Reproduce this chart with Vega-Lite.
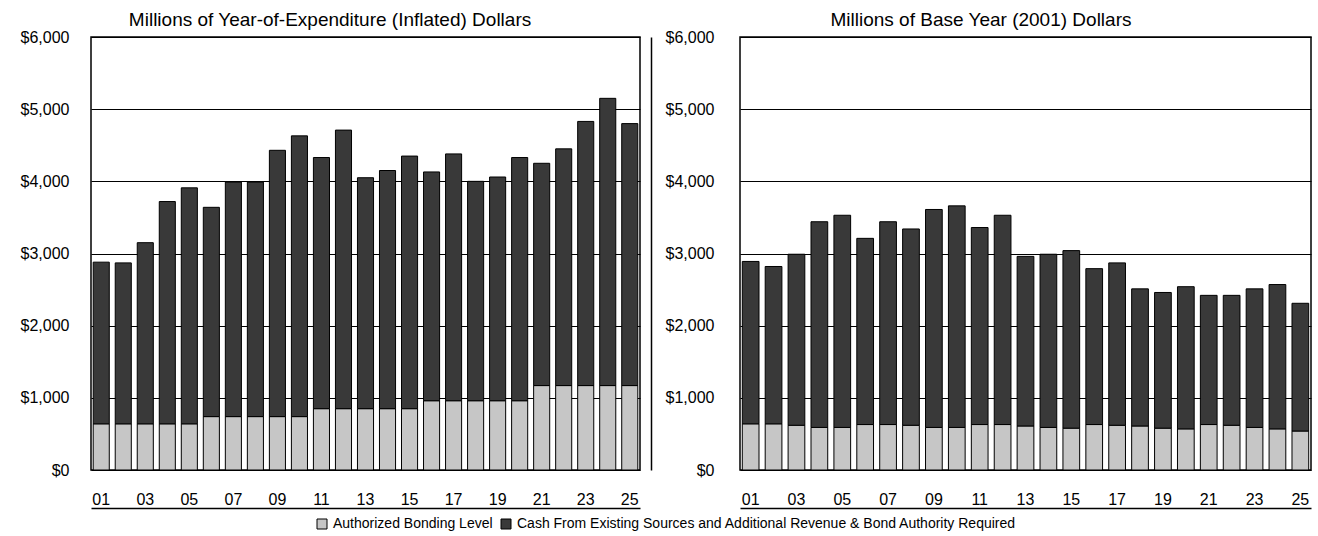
{
  "$schema": "https://vega.github.io/schema/vega-lite/v6.json",
  "background": "white",
  "padding": {"left": 19, "top": 10, "right": 5, "bottom": 4},
  "datasets": {
    "rows": [
      {"panel": "YOE", "year": "01", "series": "Authorized Bonding Level", "value": 640},
      {"panel": "YOE", "year": "02", "series": "Authorized Bonding Level", "value": 640},
      {"panel": "YOE", "year": "03", "series": "Authorized Bonding Level", "value": 640},
      {"panel": "YOE", "year": "04", "series": "Authorized Bonding Level", "value": 640},
      {"panel": "YOE", "year": "05", "series": "Authorized Bonding Level", "value": 640},
      {"panel": "YOE", "year": "06", "series": "Authorized Bonding Level", "value": 740},
      {"panel": "YOE", "year": "07", "series": "Authorized Bonding Level", "value": 740},
      {"panel": "YOE", "year": "08", "series": "Authorized Bonding Level", "value": 740},
      {"panel": "YOE", "year": "09", "series": "Authorized Bonding Level", "value": 740},
      {"panel": "YOE", "year": "10", "series": "Authorized Bonding Level", "value": 740},
      {"panel": "YOE", "year": "11", "series": "Authorized Bonding Level", "value": 850},
      {"panel": "YOE", "year": "12", "series": "Authorized Bonding Level", "value": 850},
      {"panel": "YOE", "year": "13", "series": "Authorized Bonding Level", "value": 850},
      {"panel": "YOE", "year": "14", "series": "Authorized Bonding Level", "value": 850},
      {"panel": "YOE", "year": "15", "series": "Authorized Bonding Level", "value": 850},
      {"panel": "YOE", "year": "16", "series": "Authorized Bonding Level", "value": 960},
      {"panel": "YOE", "year": "17", "series": "Authorized Bonding Level", "value": 960},
      {"panel": "YOE", "year": "18", "series": "Authorized Bonding Level", "value": 960},
      {"panel": "YOE", "year": "19", "series": "Authorized Bonding Level", "value": 960},
      {"panel": "YOE", "year": "20", "series": "Authorized Bonding Level", "value": 960},
      {"panel": "YOE", "year": "21", "series": "Authorized Bonding Level", "value": 1170},
      {"panel": "YOE", "year": "22", "series": "Authorized Bonding Level", "value": 1170},
      {"panel": "YOE", "year": "23", "series": "Authorized Bonding Level", "value": 1170},
      {"panel": "YOE", "year": "24", "series": "Authorized Bonding Level", "value": 1170},
      {"panel": "YOE", "year": "25", "series": "Authorized Bonding Level", "value": 1170},
      {"panel": "YOE", "year": "01", "series": "Cash From Existing Sources and Additional Revenue & Bond Authority Required", "value": 2240},
      {"panel": "YOE", "year": "02", "series": "Cash From Existing Sources and Additional Revenue & Bond Authority Required", "value": 2230},
      {"panel": "YOE", "year": "03", "series": "Cash From Existing Sources and Additional Revenue & Bond Authority Required", "value": 2510},
      {"panel": "YOE", "year": "04", "series": "Cash From Existing Sources and Additional Revenue & Bond Authority Required", "value": 3080},
      {"panel": "YOE", "year": "05", "series": "Cash From Existing Sources and Additional Revenue & Bond Authority Required", "value": 3270},
      {"panel": "YOE", "year": "06", "series": "Cash From Existing Sources and Additional Revenue & Bond Authority Required", "value": 2900},
      {"panel": "YOE", "year": "07", "series": "Cash From Existing Sources and Additional Revenue & Bond Authority Required", "value": 3250},
      {"panel": "YOE", "year": "08", "series": "Cash From Existing Sources and Additional Revenue & Bond Authority Required", "value": 3250},
      {"panel": "YOE", "year": "09", "series": "Cash From Existing Sources and Additional Revenue & Bond Authority Required", "value": 3690},
      {"panel": "YOE", "year": "10", "series": "Cash From Existing Sources and Additional Revenue & Bond Authority Required", "value": 3890},
      {"panel": "YOE", "year": "11", "series": "Cash From Existing Sources and Additional Revenue & Bond Authority Required", "value": 3480},
      {"panel": "YOE", "year": "12", "series": "Cash From Existing Sources and Additional Revenue & Bond Authority Required", "value": 3860},
      {"panel": "YOE", "year": "13", "series": "Cash From Existing Sources and Additional Revenue & Bond Authority Required", "value": 3200},
      {"panel": "YOE", "year": "14", "series": "Cash From Existing Sources and Additional Revenue & Bond Authority Required", "value": 3300},
      {"panel": "YOE", "year": "15", "series": "Cash From Existing Sources and Additional Revenue & Bond Authority Required", "value": 3500},
      {"panel": "YOE", "year": "16", "series": "Cash From Existing Sources and Additional Revenue & Bond Authority Required", "value": 3170},
      {"panel": "YOE", "year": "17", "series": "Cash From Existing Sources and Additional Revenue & Bond Authority Required", "value": 3420},
      {"panel": "YOE", "year": "18", "series": "Cash From Existing Sources and Additional Revenue & Bond Authority Required", "value": 3040},
      {"panel": "YOE", "year": "19", "series": "Cash From Existing Sources and Additional Revenue & Bond Authority Required", "value": 3100},
      {"panel": "YOE", "year": "20", "series": "Cash From Existing Sources and Additional Revenue & Bond Authority Required", "value": 3370},
      {"panel": "YOE", "year": "21", "series": "Cash From Existing Sources and Additional Revenue & Bond Authority Required", "value": 3080},
      {"panel": "YOE", "year": "22", "series": "Cash From Existing Sources and Additional Revenue & Bond Authority Required", "value": 3280},
      {"panel": "YOE", "year": "23", "series": "Cash From Existing Sources and Additional Revenue & Bond Authority Required", "value": 3660},
      {"panel": "YOE", "year": "24", "series": "Cash From Existing Sources and Additional Revenue & Bond Authority Required", "value": 3980},
      {"panel": "YOE", "year": "25", "series": "Cash From Existing Sources and Additional Revenue & Bond Authority Required", "value": 3630},
      {"panel": "Base", "year": "01", "series": "Authorized Bonding Level", "value": 640},
      {"panel": "Base", "year": "02", "series": "Authorized Bonding Level", "value": 640},
      {"panel": "Base", "year": "03", "series": "Authorized Bonding Level", "value": 620},
      {"panel": "Base", "year": "04", "series": "Authorized Bonding Level", "value": 590},
      {"panel": "Base", "year": "05", "series": "Authorized Bonding Level", "value": 590},
      {"panel": "Base", "year": "06", "series": "Authorized Bonding Level", "value": 630},
      {"panel": "Base", "year": "07", "series": "Authorized Bonding Level", "value": 630},
      {"panel": "Base", "year": "08", "series": "Authorized Bonding Level", "value": 620},
      {"panel": "Base", "year": "09", "series": "Authorized Bonding Level", "value": 590},
      {"panel": "Base", "year": "10", "series": "Authorized Bonding Level", "value": 590},
      {"panel": "Base", "year": "11", "series": "Authorized Bonding Level", "value": 630},
      {"panel": "Base", "year": "12", "series": "Authorized Bonding Level", "value": 630},
      {"panel": "Base", "year": "13", "series": "Authorized Bonding Level", "value": 610},
      {"panel": "Base", "year": "14", "series": "Authorized Bonding Level", "value": 590},
      {"panel": "Base", "year": "15", "series": "Authorized Bonding Level", "value": 580},
      {"panel": "Base", "year": "16", "series": "Authorized Bonding Level", "value": 630},
      {"panel": "Base", "year": "17", "series": "Authorized Bonding Level", "value": 620},
      {"panel": "Base", "year": "18", "series": "Authorized Bonding Level", "value": 610},
      {"panel": "Base", "year": "19", "series": "Authorized Bonding Level", "value": 580},
      {"panel": "Base", "year": "20", "series": "Authorized Bonding Level", "value": 570},
      {"panel": "Base", "year": "21", "series": "Authorized Bonding Level", "value": 630},
      {"panel": "Base", "year": "22", "series": "Authorized Bonding Level", "value": 620},
      {"panel": "Base", "year": "23", "series": "Authorized Bonding Level", "value": 590},
      {"panel": "Base", "year": "24", "series": "Authorized Bonding Level", "value": 570},
      {"panel": "Base", "year": "25", "series": "Authorized Bonding Level", "value": 540},
      {"panel": "Base", "year": "01", "series": "Cash From Existing Sources and Additional Revenue & Bond Authority Required", "value": 2250},
      {"panel": "Base", "year": "02", "series": "Cash From Existing Sources and Additional Revenue & Bond Authority Required", "value": 2180},
      {"panel": "Base", "year": "03", "series": "Cash From Existing Sources and Additional Revenue & Bond Authority Required", "value": 2370},
      {"panel": "Base", "year": "04", "series": "Cash From Existing Sources and Additional Revenue & Bond Authority Required", "value": 2850},
      {"panel": "Base", "year": "05", "series": "Cash From Existing Sources and Additional Revenue & Bond Authority Required", "value": 2940},
      {"panel": "Base", "year": "06", "series": "Cash From Existing Sources and Additional Revenue & Bond Authority Required", "value": 2580},
      {"panel": "Base", "year": "07", "series": "Cash From Existing Sources and Additional Revenue & Bond Authority Required", "value": 2810},
      {"panel": "Base", "year": "08", "series": "Cash From Existing Sources and Additional Revenue & Bond Authority Required", "value": 2720},
      {"panel": "Base", "year": "09", "series": "Cash From Existing Sources and Additional Revenue & Bond Authority Required", "value": 3020},
      {"panel": "Base", "year": "10", "series": "Cash From Existing Sources and Additional Revenue & Bond Authority Required", "value": 3070},
      {"panel": "Base", "year": "11", "series": "Cash From Existing Sources and Additional Revenue & Bond Authority Required", "value": 2730},
      {"panel": "Base", "year": "12", "series": "Cash From Existing Sources and Additional Revenue & Bond Authority Required", "value": 2900},
      {"panel": "Base", "year": "13", "series": "Cash From Existing Sources and Additional Revenue & Bond Authority Required", "value": 2350},
      {"panel": "Base", "year": "14", "series": "Cash From Existing Sources and Additional Revenue & Bond Authority Required", "value": 2400},
      {"panel": "Base", "year": "15", "series": "Cash From Existing Sources and Additional Revenue & Bond Authority Required", "value": 2460},
      {"panel": "Base", "year": "16", "series": "Cash From Existing Sources and Additional Revenue & Bond Authority Required", "value": 2160},
      {"panel": "Base", "year": "17", "series": "Cash From Existing Sources and Additional Revenue & Bond Authority Required", "value": 2250},
      {"panel": "Base", "year": "18", "series": "Cash From Existing Sources and Additional Revenue & Bond Authority Required", "value": 1900},
      {"panel": "Base", "year": "19", "series": "Cash From Existing Sources and Additional Revenue & Bond Authority Required", "value": 1880},
      {"panel": "Base", "year": "20", "series": "Cash From Existing Sources and Additional Revenue & Bond Authority Required", "value": 1970},
      {"panel": "Base", "year": "21", "series": "Cash From Existing Sources and Additional Revenue & Bond Authority Required", "value": 1790},
      {"panel": "Base", "year": "22", "series": "Cash From Existing Sources and Additional Revenue & Bond Authority Required", "value": 1800},
      {"panel": "Base", "year": "23", "series": "Cash From Existing Sources and Additional Revenue & Bond Authority Required", "value": 1920},
      {"panel": "Base", "year": "24", "series": "Cash From Existing Sources and Additional Revenue & Bond Authority Required", "value": 2000},
      {"panel": "Base", "year": "25", "series": "Cash From Existing Sources and Additional Revenue & Bond Authority Required", "value": 1770}
    ]
  },
  "data": {"name": "rows"},
  "spacing": 9,
  "hconcat": [
    {
      "transform": [{"filter": "datum.panel === 'YOE'"}],
      "title": {"text": "Millions of Year-of-Expenditure (Inflated) Dollars"},
      "width": 549,
      "height": 433,
      "mark": {"type": "bar", "stroke": "black", "strokeWidth": 1},
      "encoding": {
        "x": {
          "field": "year", "type": "ordinal",
          "scale": {"paddingInner": 0.27, "paddingOuter": 0.1},
          "axis": {"values": ["01","03","05","07","09","11","13","15","17","19","21","23","25"], "title": null, "labelAngle": 0, "ticks": false, "tickSize": 0, "domain": true, "domainColor": "black", "domainWidth": 1.5, "offset": 38, "labelPadding": -17}
        },
        "y": {
          "field": "value", "type": "quantitative", "stack": "zero",
          "scale": {"domain": [0, 6000]},
          "axis": {"values": [0,1000,2000,3000,4000,5000,6000], "format": "$,d", "title": null, "ticks": false, "tickSize": 0, "domain": false, "labelPadding": 22, "grid": true}
        },
        "order": {"field": "series", "sort": "ascending"},
        "color": {
          "field": "series", "type": "nominal",
          "scale": {"domain": ["Authorized Bonding Level", "Cash From Existing Sources and Additional Revenue & Bond Authority Required"], "range": ["#c6c6c6", "#393939"]},
          "legend": {"title": null, "orient": "bottom", "direction": "horizontal"}
        }
      }
    },
    {
      "transform": [{"filter": "datum.panel === 'Base'"}],
      "title": {"text": "Millions of Base Year (2001) Dollars"},
      "width": 571,
      "height": 433,
      "mark": {"type": "bar", "stroke": "black", "strokeWidth": 1},
      "encoding": {
        "x": {
          "field": "year", "type": "ordinal",
          "scale": {"paddingInner": 0.27, "paddingOuter": 0.1},
          "axis": {"values": ["01","03","05","07","09","11","13","15","17","19","21","23","25"], "title": null, "labelAngle": 0, "ticks": false, "tickSize": 0, "domain": true, "domainColor": "black", "domainWidth": 1.5, "offset": 38, "labelPadding": -17}
        },
        "y": {
          "field": "value", "type": "quantitative", "stack": "zero",
          "scale": {"domain": [0, 6000]},
          "axis": {"values": [0,1000,2000,3000,4000,5000,6000], "format": "$,d", "title": null, "ticks": false, "tickSize": 0, "domain": true, "domainColor": "black", "domainWidth": 1.5, "offset": 89, "labelPadding": -63, "grid": true}
        },
        "order": {"field": "series", "sort": "ascending"},
        "color": {
          "field": "series", "type": "nominal",
          "scale": {"domain": ["Authorized Bonding Level", "Cash From Existing Sources and Additional Revenue & Bond Authority Required"], "range": ["#c6c6c6", "#393939"]},
          "legend": {"title": null, "orient": "bottom", "direction": "horizontal"}
        }
      }
    }
  ],
  "config": {
    "font": "Liberation Sans",
    "view": {"stroke": "black", "strokeWidth": 1.5},
    "title": {"frame": "bounds", "anchor": "middle", "fontSize": 19, "fontWeight": "normal", "font": "Liberation Sans", "color": "black", "offset": -1},
    "axis": {"labelFont": "Liberation Sans", "labelFontSize": 16, "labelColor": "black", "gridColor": "black", "gridWidth": 1.2, "gridOpacity": 1},
    "legend": {"labelFont": "Liberation Sans", "labelFontSize": 14, "labelColor": "black", "labelLimit": 0, "symbolType": "square", "symbolSize": 100, "symbolStrokeColor": "black", "symbolStrokeWidth": 1, "columnPadding": 6, "labelOffset": 4, "offset": 8, "layout": {"bottom": {"anchor": "middle"}}}
  }
}
